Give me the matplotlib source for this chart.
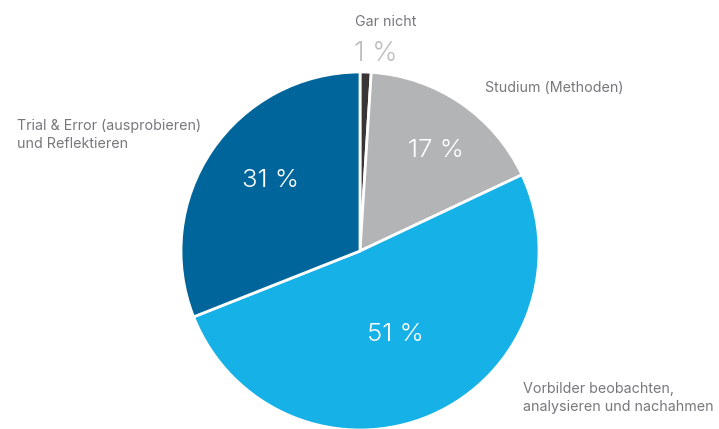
import matplotlib
matplotlib.use("Agg")
import matplotlib.pyplot as plt

categories = ["Gar nicht", "Studium (Methoden)", "Vorbilder beobachten,\nanalysieren und nachahmen",
              "Trial & Error (ausprobieren)\nund Reflektieren"]
values = [1, 17, 51, 31]
colors = ["#3a3434", "#b3b4b6", "#16b1e6", "#00659a"]

W, H = 719, 429
fig = plt.figure(figsize=(W / 100, H / 100), dpi=100)
ax = fig.add_axes([0, 0, 1, 1])

cx, cy, r = 360, H - 251, 179
ax.pie(values, colors=colors, startangle=90, counterclock=False, center=(cx, cy), radius=r,
       wedgeprops=dict(edgecolor="white", linewidth=2), frame=True)
ax.set_xlim(0, W)
ax.set_ylim(0, H)
ax.set_aspect("equal")
ax.axis("off")

font = ["Inter", "DejaVu Sans"]
lab_col = "#76787b"

def Y(y):
    return H - y

# category labels
ax.text(355, Y(22), categories[0], fontsize=10.3, color=lab_col, family=font, ha="left", va="center")
ax.text(485, Y(88), categories[1], fontsize=10.3, color=lab_col, family=font, ha="left", va="center")
ax.text(523, Y(398), categories[2], fontsize=10.3, color=lab_col, family=font, ha="left", va="center",
        linespacing=1.45)
ax.text(17, Y(135), categories[3], fontsize=10.3, color=lab_col, family=font, ha="left", va="center",
        linespacing=1.45)

# percentage labels
pct_kw = dict(fontsize=18.5, family=font, ha="center", va="center_baseline", fontweight=300)
ax.text(376, Y(51), f"{values[0]} %", color="#bdbec0", fontsize=19.5,
        **{k: v for k, v in pct_kw.items() if k != "fontsize"})
ax.text(436, Y(148), f"{values[1]} %", color="white", **pct_kw)
ax.text(395, Y(332), f"{values[2]} %", color="white", **pct_kw)
ax.text(270, Y(178), f"{values[3]} %", color="white", **pct_kw)

fig.savefig("out.png", dpi=100, facecolor="white")
